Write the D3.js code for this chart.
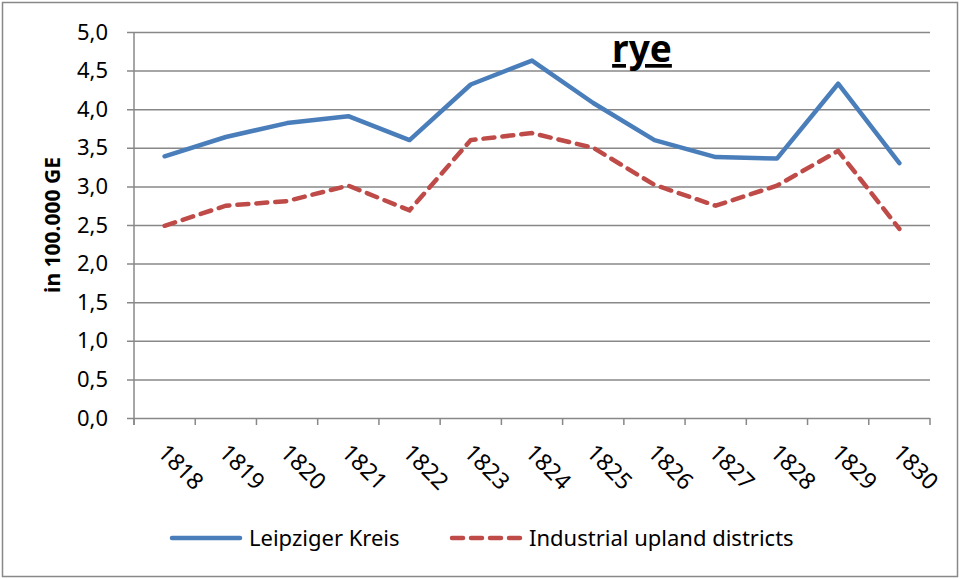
<!DOCTYPE html>
<html lang="en">
<head>
<meta charset="utf-8">
<title>rye</title>
<script src="https://cdn.jsdelivr.net/npm/d3@7"></script>
<style>
  body { margin: 0; background: #fff; }
  svg { display: block; }
</style>
</head>
<body>
<div id="chart"></div>
<script>
// data
var years = ["1818","1819","1820","1821","1822","1823","1824","1825","1826","1827","1828","1829","1830"];
var leipzig = [3.39, 3.64, 3.82, 3.91, 3.60, 4.32, 4.63, 4.08, 3.60, 3.38, 3.36, 4.33, 3.30];
var upland = [2.49, 2.75, 2.81, 3.01, 2.69, 3.60, 3.69, 3.50, 3.02, 2.75, 3.01, 3.46, 2.45];
var yTicks = [0, 0.5, 1, 1.5, 2, 2.5, 3, 3.5, 4, 4.5, 5];

var w = 961, h = 579;
var m = { left: 134, right: 31, top: 32, bottom: 161 };

var svg = d3.select("#chart").append("svg")
  .attr("width", w).attr("height", h);

// outer frame
svg.append("rect")
  .attr("x", 2.5).attr("y", 2.5)
  .attr("width", w - 6).attr("height", h - 5)
  .attr("fill", "#fff").attr("stroke", "#888").attr("stroke-width", 1.5);

var x = d3.scaleBand().domain(years).range([m.left, w - m.right]);
var y = d3.scaleLinear().domain([0, 5]).range([h - m.bottom, m.top]);

var fmt = function(d) { return d3.format(".1f")(d).replace(".", ","); };

// y gridlines + ticks
var yAxis = svg.append("g")
  .attr("transform", "translate(" + m.left + ",0)")
  .call(d3.axisLeft(y).tickValues(yTicks).tickFormat(fmt)
    .tickSize(-(w - m.left - m.right)).tickPadding(26));
yAxis.select(".domain").remove();
yAxis.selectAll("line").attr("stroke", "#888").attr("stroke-width", 1.5)
  .attr("x1", -7);
yAxis.selectAll("text")
  .attr("font-family", "'Noto Sans', sans-serif")
  .attr("font-size", 22).attr("fill", "#000");

// y axis line
svg.append("line")
  .attr("x1", m.left).attr("x2", m.left)
  .attr("y1", m.top).attr("y2", h - m.bottom + 7)
  .attr("stroke", "#888").attr("stroke-width", 1.5);

// x axis ticks between categories
var bounds = years.map(function(d) { return x(d); }).concat([w - m.right]);
svg.selectAll(".xtick").data(bounds).enter().append("line")
  .attr("x1", function(d) { return d; }).attr("x2", function(d) { return d; })
  .attr("y1", h - m.bottom).attr("y2", h - m.bottom + 7)
  .attr("stroke", "#888").attr("stroke-width", 1.5);

svg.selectAll(".xlab").data(years).enter().append("text")
  .attr("transform", function(d) {
    return "translate(" + (x(d) + x.bandwidth() / 2 - 8) + "," + (h - m.bottom + 36) + ") rotate(45)";
  })
  .attr("font-family", "'Noto Sans', sans-serif")
  .attr("font-size", 23)
  .text(function(d) { return d; });

// y axis title
svg.append("text")
  .attr("transform", "translate(60," + ((m.top + h - m.bottom) / 2) + ") rotate(-90)")
  .attr("text-anchor", "middle")
  .attr("font-family", "'Noto Sans', sans-serif")
  .attr("font-weight", "bold").attr("font-size", 21)
  .text("in 100.000 GE");

// title
svg.append("text")
  .attr("x", 642).attr("y", 62)
  .attr("text-anchor", "middle")
  .attr("font-family", "'Noto Sans', sans-serif")
  .attr("font-weight", "bold").attr("font-size", 37)
  .attr("text-decoration", "underline")
  .text("rye");

var line = d3.line()
  .x(function(d, i) { return x(years[i]) + x.bandwidth() / 2; })
  .y(function(d) { return y(d); });

svg.append("path").datum(upland)
  .attr("d", line).attr("fill", "none")
  .attr("stroke", "#BE4B48").attr("stroke-width", 4.5)
  .attr("stroke-dasharray", "11,8").attr("stroke-linecap", "round");

svg.append("path").datum(leipzig)
  .attr("d", line).attr("fill", "none")
  .attr("stroke", "#4A7EBB").attr("stroke-width", 4.5)
  .attr("stroke-linejoin", "round").attr("stroke-linecap", "round");

// legend
var legend = [
  { name: "Leipziger Kreis", color: "#4A7EBB", dash: null, x: 172 },
  { name: "Industrial upland districts", color: "#BE4B48", dash: "11,8", x: 452 }
];
var lg = svg.selectAll(".lg").data(legend).enter().append("g")
  .attr("transform", function(d) { return "translate(" + d.x + ",538)"; });
lg.append("line")
  .attr("x1", 0).attr("x2", 68)
  .attr("stroke", function(d) { return d.color; })
  .attr("stroke-width", 4.5).attr("stroke-linecap", "round")
  .attr("stroke-dasharray", function(d) { return d.dash; });
lg.append("text")
  .attr("x", 77).attr("y", 8)
  .attr("font-family", "'Noto Sans', sans-serif")
  .attr("font-size", 22)
  .text(function(d) { return d.name; });
</script>
</body>
</html>
